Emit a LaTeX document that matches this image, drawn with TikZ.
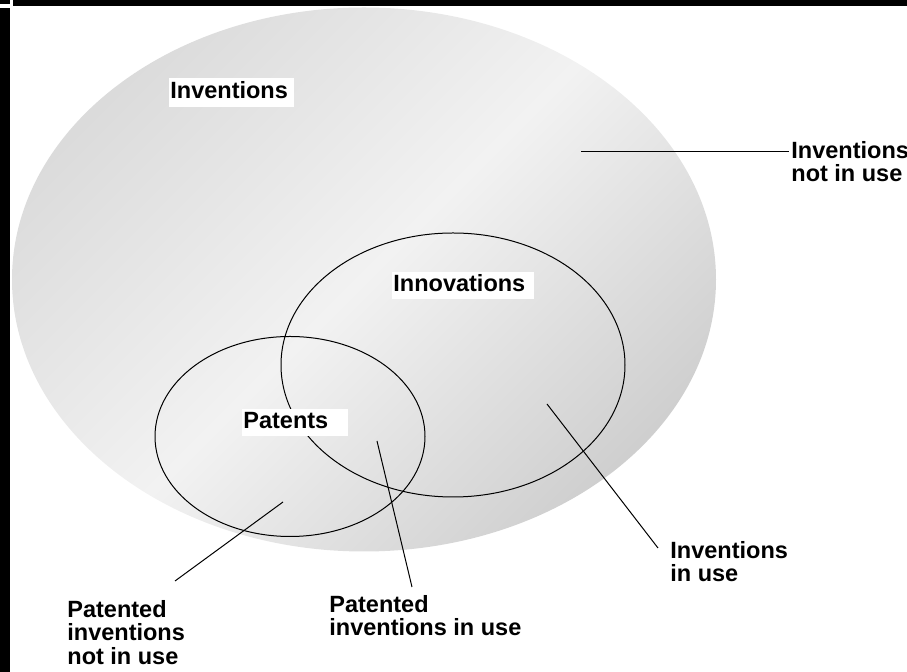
\documentclass[tikz,border=0pt]{standalone}
\usepackage{fontspec}
\setmainfont{Liberation Sans}
\usetikzlibrary{calc}
\definecolor{shadeTL}{HTML}{DBDBDB}
\definecolor{shadeMid}{HTML}{F2F2F2}
\definecolor{shadeBR}{HTML}{CFCFCF}
\tikzset{
  all/.style     = {align=left, inner sep=0pt, font=\fontsize{11.75}{11.75}\selectfont\bfseries},
  callout/.style = {all, anchor=north west},
  setname/.style = {all, anchor=north west, fill=white, inner xsep=0.5pt, inner ysep=1pt,
                    text height=8.6pt, text depth=2.6pt, text width=#1},
  ring/.style    = {draw=black, line width=0.5pt},
  leader/.style  = {draw=black, line width=0.5pt}
}

\begin{document}
\begin{tikzpicture}[x=0.5pt, y=-0.5pt]
\useasboundingbox (0,0) rectangle (907,672);
% frame remains at the top and on the left
\fill[black] (0,0) rectangle (10,4);
\fill[black] (0,8) rectangle (10,672);
\fill[black] (13,0) rectangle (907,6);

% the three sets
\path[top color=shadeTL, bottom color=shadeBR, middle color=shadeMid, shading angle=45]
  (364,279.5) ellipse [x radius=352, y radius=272];
\draw[ring] (453,365) ellipse [x radius=172, y radius=132];
\draw[ring] (290,436.5) ellipse [x radius=135, y radius=100];

% set names
\node[setname=61.5pt, inner ysep=1.5pt] (inventions) at (169,78) {Inventions};
\node[setname=70pt] (innovations) at (392,272) {Innovations};
\node[setname=52pt] (patents) at (242,409) {Patents};

% regions that are pointed at
\coordinate (notusept) at (581,152);
\coordinate (inusept) at (547,404);
\coordinate (patusept) at (377,441);
\coordinate (patnotpt) at (283,502);

% callouts
\node[callout] (notuse) at (791,141) {Inventions\\not in use};
\node[callout] (inuse) at (670,541) {Inventions\\in use};
\node[callout] (patuse) at (329,595) {Patented\\inventions in use};
\node[callout] (patnot) at (67,600) {Patented\\inventions\\not in use};

\draw[leader] (notusept) -- ($(notuse.north west)+(-2,11)$);
\draw[leader] (inusept) -- ($(inuse.north west)+(-12,7)$);
\draw[leader] (patusept) -- ($(patuse.north west)+(83,-8)$);
\draw[leader] (patnotpt) -- ($(patnot.north west)+(108,-19)$);

\end{tikzpicture}
\end{document}
